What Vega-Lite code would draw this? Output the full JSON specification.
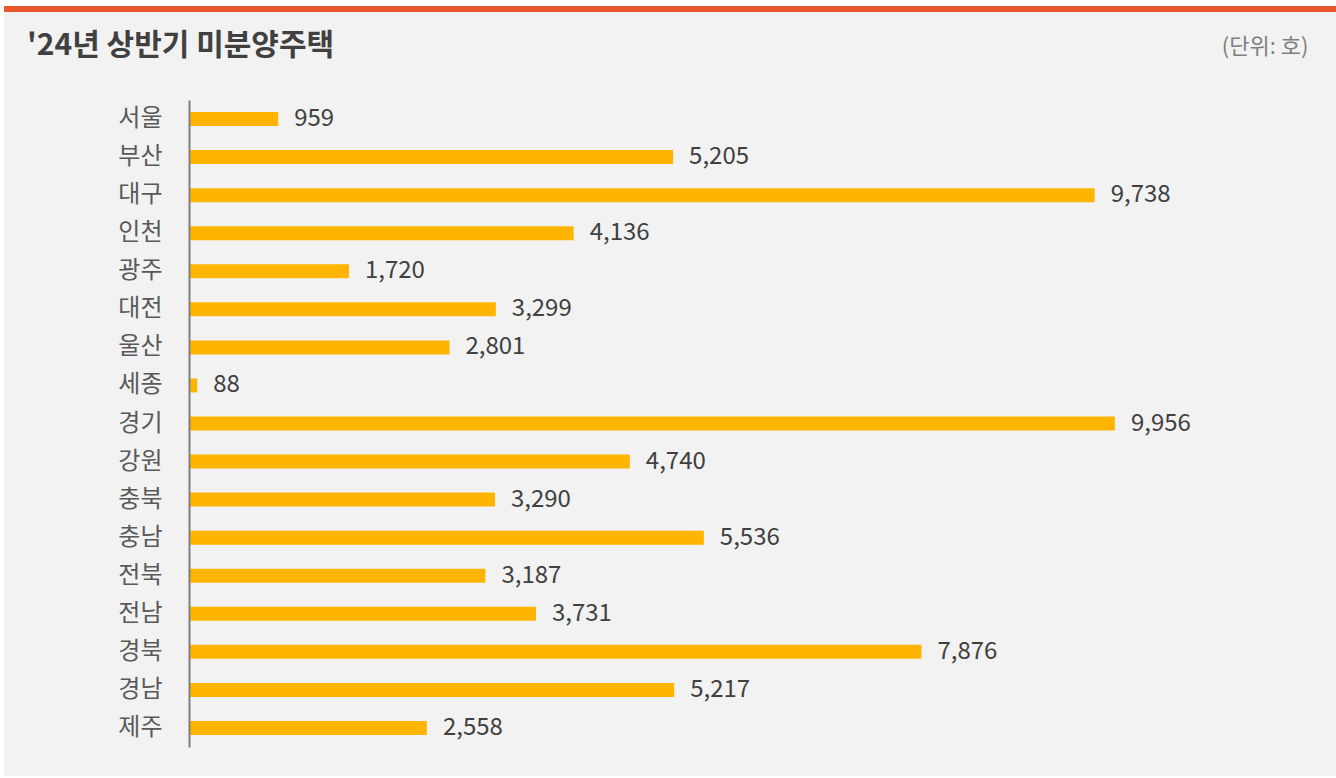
{
  "$schema": "https://vega.github.io/schema/vega-lite/v6.json",
  "autosize": "none",
  "width": 1332,
  "height": 767,
  "padding": {"left": 4, "top": 9, "right": 0, "bottom": 2},
  "background": "#ffffff",
  "view": {"fill": "#f2f2f2", "stroke": "#e9572b", "strokeWidth": 6, "strokeDash": [1332, 4000]},
  "config": {"font": "Noto Sans CJK KR"},
  "title": {
    "text": "'24년 상반기 미분양주택",
    "anchor": "start",
    "frame": "group",
    "font": "Noto Sans CJK KR",
    "fontSize": 30,
    "fontWeight": "bold",
    "color": "#404040",
    "dx": 23,
    "offset": -67,
    "baseline": "middle"
  },
  "data": {
    "values": [
      {"region": "서울", "value": 959},
      {"region": "부산", "value": 5205},
      {"region": "대구", "value": 9738},
      {"region": "인천", "value": 4136},
      {"region": "광주", "value": 1720},
      {"region": "대전", "value": 3299},
      {"region": "울산", "value": 2801},
      {"region": "세종", "value": 88},
      {"region": "경기", "value": 9956},
      {"region": "강원", "value": 4740},
      {"region": "충북", "value": 3290},
      {"region": "충남", "value": 5536},
      {"region": "전북", "value": 3187},
      {"region": "전남", "value": 3731},
      {"region": "경북", "value": 7876},
      {"region": "경남", "value": 5217},
      {"region": "제주", "value": 2558}
    ]
  },
  "encoding": {
    "y": {
      "field": "region",
      "type": "nominal",
      "sort": null,
      "scale": {"range": [91, 738], "paddingInner": 0.632, "paddingOuter": 0.316},
      "axis": {
        "orient": "left",
        "offset": -185,
        "title": null,
        "ticks": false,
        "domainColor": "#7f7f7f",
        "domainWidth": 2,
        "labelFont": "Noto Sans CJK KR",
        "labelFontSize": 24,
        "labelColor": "#595959",
        "labelPadding": 27,
        "zindex": 1
      }
    },
    "x": {
      "field": "value",
      "type": "quantitative",
      "scale": {"domain": [0, 10000], "range": [185, 1115]},
      "axis": {
        "orient": "top",
        "domain": false,
        "ticks": false,
        "labels": false,
        "grid": false,
        "title": "(단위: 호)",
        "titleX": 1304,
        "titleY": 37,
        "titleAlign": "right",
        "titleBaseline": "middle",
        "titleFont": "Noto Sans CJK KR",
        "titleFontSize": 22,
        "titleFontWeight": "normal",
        "titleColor": "#7f7f7f"
      }
    }
  },
  "layer": [
    {"mark": {"type": "bar", "color": "#ffb400"}},
    {
      "mark": {"type": "text", "align": "left", "baseline": "middle", "dx": 16, "fontSize": 24, "color": "#404040", "font": "Noto Sans CJK KR"},
      "encoding": {"text": {"field": "value", "type": "quantitative", "format": ","}}
    }
  ]
}
